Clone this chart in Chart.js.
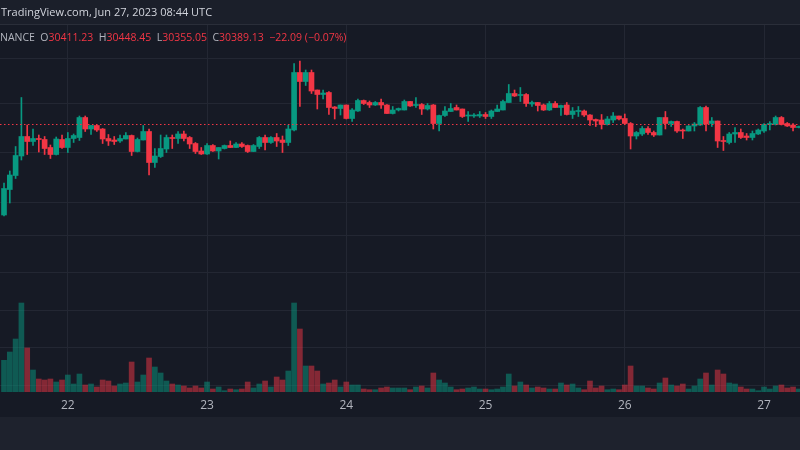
<!DOCTYPE html>
<html><head><meta charset="utf-8">
<script src="https://cdn.jsdelivr.net/npm/chart.js@4"></script>
<style>html,body{margin:0;padding:0;background:#161a25;}#wrap{width:800px;height:450px;}</style>
</head><body><div id="wrap"><canvas id="c" width="800" height="450"></canvas></div>
<script>
const openP=[30220,30271,30299,30338,30377,30367,30373,30371,30355,30341,30371,30355,30373,30375,30415,30392,30399,30392,30373,30370,30368,30372,30379,30347,30370,30387,30325,30337,30352,30375,30373,30382,30375,30363,30348,30342,30359,30348,30353,30359,30355,30362,30359,30347,30357,30375,30365,30375,30370,30365,30390,30505,30487,30505,30470,30461,30465,30436,30433,30440,30413,30428,30449,30445,30440,30445,30440,30423,30430,30430,30447,30439,30441,30432,30440,30403,30419,30427,30435,30432,30418,30418,30418,30421,30417,30427,30430,30445,30463,30459,30461,30442,30445,30440,30430,30443,30435,30440,30421,30427,30428,30420,30411,30410,30401,30410,30418,30413,30403,30378,30382,30393,30385,30380,30415,30403,30407,30390,30388,30398,30400,30435,30403,30408,30369,30365,30382,30385,30378,30375,30382,30388,30401,30401,30415,30403,30400,30395];
const highP=[30284,30308,30357,30455,30400,30392,30380,30377,30360,30376,30380,30385,30382,30418,30418,30399,30400,30393,30381,30377,30380,30385,30380,30374,30399,30392,30353,30380,30380,30380,30387,30388,30377,30365,30355,30363,30361,30355,30360,30368,30365,30365,30360,30361,30377,30380,30377,30383,30378,30400,30523,30528,30510,30510,30470,30470,30467,30437,30440,30440,30433,30452,30450,30448,30447,30452,30441,30437,30434,30450,30447,30455,30443,30443,30441,30420,30437,30443,30440,30432,30427,30423,30427,30425,30430,30440,30450,30481,30470,30475,30463,30448,30445,30442,30447,30447,30440,30445,30435,30437,30430,30421,30412,30421,30417,30425,30418,30422,30405,30387,30397,30397,30388,30415,30427,30408,30408,30392,30399,30405,30437,30438,30415,30408,30377,30385,30395,30392,30383,30388,30392,30403,30407,30418,30417,30405,30403,30398];
const lowP=[30218,30244,30293,30330,30341,30359,30346,30341,30333,30340,30353,30345,30365,30369,30387,30381,30387,30363,30359,30361,30365,30372,30339,30346,30370,30300,30315,30335,30345,30353,30363,30368,30353,30343,30341,30341,30347,30332,30352,30355,30355,30355,30345,30347,30353,30350,30363,30357,30345,30359,30388,30437,30479,30463,30432,30452,30421,30412,30420,30412,30407,30427,30441,30435,30439,30433,30423,30422,30428,30430,30437,30435,30421,30430,30392,30388,30417,30427,30430,30415,30407,30415,30415,30413,30413,30427,30430,30445,30457,30447,30437,30437,30428,30429,30429,30435,30419,30420,30413,30417,30417,30399,30397,30392,30400,30405,30410,30402,30352,30372,30379,30381,30377,30380,30392,30397,30385,30373,30388,30388,30399,30388,30397,30355,30349,30362,30365,30373,30370,30370,30381,30385,30390,30400,30400,30397,30388,30394];
const closeP=[30273,30300,30339,30377,30367,30373,30371,30353,30341,30372,30355,30373,30379,30415,30392,30399,30390,30372,30368,30367,30373,30379,30347,30371,30387,30325,30338,30353,30375,30373,30382,30373,30362,30347,30342,30359,30348,30355,30359,30355,30362,30357,30347,30359,30375,30365,30375,30368,30365,30392,30505,30487,30505,30468,30461,30464,30435,30433,30440,30413,30430,30449,30443,30440,30445,30440,30423,30430,30433,30447,30438,30441,30432,30439,30403,30419,30428,30433,30430,30417,30420,30420,30421,30417,30428,30432,30447,30463,30458,30461,30443,30445,30439,30430,30443,30435,30439,30421,30428,30428,30420,30410,30408,30401,30412,30418,30412,30403,30378,30385,30393,30385,30380,30415,30403,30407,30388,30388,30398,30402,30435,30402,30408,30368,30367,30382,30385,30375,30375,30383,30390,30401,30403,30415,30401,30398,30395,30397];
const volume=[317,400,530,890,440,220,130,120,130,100,120,170,80,180,70,80,50,120,110,60,80,90,300,100,170,340,250,190,110,80,70,60,40,60,40,100,30,50,13,30,23,30,100,40,80,110,50,150,120,210,890,630,260,260,210,80,90,120,50,100,70,70,30,23,23,40,50,40,40,40,23,50,60,40,190,120,90,50,23,30,40,50,30,30,23,30,50,180,60,100,70,40,50,40,30,30,90,70,80,40,23,110,40,60,23,30,23,70,260,60,60,40,30,90,140,70,60,80,30,60,130,190,70,220,180,90,80,50,30,30,13,50,30,60,70,40,50,30];
const dayTicks=[11,35,59,83,107,131];
const dayLabels=['22','23','24','25','26','27'];
const priceGrid=[30630,30534,30442,30346,30246,30180,30106,30030,29956,29880];

const UP='#089981', DN='#f23645';
const idx=openP.map((_,i)=>i);
const isUp=i=>closeP[i]>=openP[i];
const wick=idx.map(i=>({x:i,y:[lowP[i],highP[i]]}));
const body=idx.map(i=>({x:i,y:[openP[i],closeP[i]]}));
const vol=idx.map(i=>({x:i,y:volume[i]}));
const candleCol=idx.map(i=>isUp(i)?UP:DN);
const volCol=idx.map(i=>isUp(i)?'rgba(8,153,129,0.5)':'rgba(242,54,69,0.5)');

const deco={id:'deco',
 beforeDraw(ch){const c=ch.ctx;c.save();c.fillStyle='#161a25';c.fillRect(0,0,800,450);c.restore();},
 afterDatasetsDraw(ch){const c=ch.ctx,y=ch.scales.y;c.save();
  const py=y.getPixelForValue(closeP[closeP.length-1])-3;
  c.strokeStyle=DN;c.setLineDash([1.5,2.5]);c.lineWidth=1;c.beginPath();c.moveTo(0,Math.round(py)+0.5);c.lineTo(800,Math.round(py)+0.5);c.stroke();c.restore();},
 afterDraw(ch){const c=ch.ctx;c.save();
  c.fillStyle='#1e222d';c.fillRect(0,417,800,33);
  c.fillStyle='#1b1f2a';c.fillRect(0,0,800,24);
  c.fillStyle='#2a2e39';c.fillRect(0,24,800,1);
  c.font='11px "Open Sans", sans-serif';c.textBaseline='middle';
  c.fillStyle='#d1d4dc';c.fillText('TradingView.com, Jun 27, 2023 08:44 UTC',1,13);
  let x=0;const parts=[['NANCE  ','#b2b5be'],['O','#b2b5be'],['30411.23  ',DN],['H','#b2b5be'],['30448.45  ',DN],['L','#b2b5be'],['30355.05  ',DN],['C','#b2b5be'],['30389.13  ',DN],['−22.09 (−0.07%)',DN]];
  c.font='10.5px "Open Sans", sans-serif';
  for(const [t,col] of parts){c.fillStyle=col;c.fillText(t,x,38);x+=c.measureText(t).width;}
  c.restore();}
};

new Chart(document.getElementById('c'),{
 type:'bar',
 data:{datasets:[
  {data:vol,yAxisID:'v',backgroundColor:volCol,barThickness:5,grouped:false,order:3},
  {data:wick,yAxisID:'y',backgroundColor:candleCol,barThickness:1,grouped:false,order:2},
  {data:body,yAxisID:'y',backgroundColor:candleCol,barThickness:5,minBarLength:1,grouped:false,order:1}
 ]},
 options:{responsive:false,animation:false,devicePixelRatio:1,
  layout:{padding:0},
  plugins:{legend:{display:false},tooltip:{enabled:false}},
  scales:{
   x:{type:'linear',min:-0.69,max:137.2,offset:false,
      afterBuildTicks(s){s.ticks=dayTicks.map(v=>({value:v}));},
      afterFit(s){s.height=58;},
      ticks:{callback:(v)=>dayLabels[dayTicks.indexOf(v)]??'',color:'#b2b5be',font:{size:12,family:'"Open Sans", sans-serif'},padding:6,maxRotation:0,autoSkip:false},
      grid:{color:'#232733',drawTicks:false,offset:false},border:{display:false}},
   y:{min:29866,max:30650,position:'left',
      afterBuildTicks(s){s.ticks=priceGrid.map(v=>({value:v}));},
      afterFit(s){s.width=0;},
      ticks:{display:false},grid:{color:'#232733',drawTicks:false},border:{display:false}},
   v:{min:0,max:3920,position:'right',display:false}
  }},
 plugins:[deco]
});
</script></body></html>
